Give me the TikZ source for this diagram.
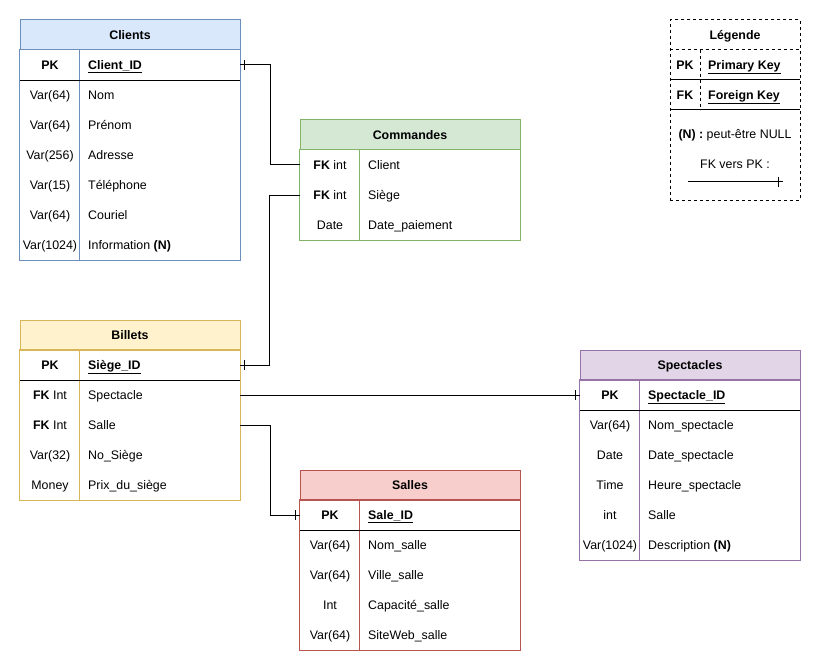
\documentclass[tikz,border=0pt]{standalone}
\usepackage{fontspec}
\setmainfont{Liberation Sans}
\begin{document}
\definecolor{blueFill}{HTML}{DAE8FC}\definecolor{blueLine}{HTML}{6C8EBF}
\definecolor{greenFill}{HTML}{D5E8D4}\definecolor{greenLine}{HTML}{82B366}
\definecolor{yellowFill}{HTML}{FFF2CC}\definecolor{yellowLine}{HTML}{D6B656}
\definecolor{redFill}{HTML}{F8CECC}\definecolor{redLine}{HTML}{B85450}
\definecolor{purpleFill}{HTML}{E1D5E7}\definecolor{purpleLine}{HTML}{9673A6}
\newcommand{\basefont}{\fontsize{12.4}{14}\selectfont}
\tikzset{
  txt/.style={inner sep=0pt, text height=10pt, text depth=1.4pt},
  hdr/.style={minimum width=220pt, minimum height=30pt, inner sep=0pt, line width=1pt,
    font=\basefont\bfseries, text height=10pt, text depth=1.4pt},
  rowbox/.style={minimum width=220pt, minimum height=30pt, inner sep=0pt},
  keytxt/.style={txt},
  nametxt/.style={txt, anchor=west},
  boldtxt/.style={txt, font=\basefont\bfseries},
  tbl/.style={line width=1pt},
  pkline/.style={line width=1pt, black},
  conn/.style={line width=1pt, black},
  tick/.style={line width=1pt, black},
  legdash/.style={line width=1pt, dash pattern=on 3pt off 3pt}
}
% Entity table: name, left x, top y, title, fill, stroke, key/label rows
\newcommand{\ertable}[7]{%
  \node[hdr, fill=#5, draw=#6] (#1-h) at (#2+110, #3+15) {#4};
  \foreach \k/\l [count=\i from 0] in {#7} {
    \node[rowbox] (#1-r\i) at (#2+110, #3+45+30*\i) {};
    \node[keytxt] (#1-k\i) at (#2+30, #3+45+30*\i) {\k};
    \node[nametxt] (#1-n\i) at (#2+68, #3+45+30*\i) {\l};
    \xdef\lastrow{\i}
  }
  \draw[tbl, draw=#6] (#1-r0.north west) rectangle (#1-r\lastrow.south east);
  \draw[tbl, draw=#6] ([xshift=60pt]#1-r0.north west) -- ([xshift=60pt]#1-r\lastrow.south west);
}
\begin{tikzpicture}[x=1pt, y=-1pt, font=\basefont]
\useasboundingbox (0,0) rectangle (821,671);
\fill[white] (0,0) rectangle (821,671);

\ertable{cl}{20}{20}{Clients}{blueFill}{blueLine}{%
  \textbf{PK}/\underline{\textbf{Client\_ID}},
  Var(64)/Nom, Var(64)/Prénom, Var(256)/Adresse,
  Var(15)/Téléphone, Var(64)/Couriel,
  Var(1024)/{Information \textbf{(N)}}}
\draw[pkline] (cl-r0.south west) -- (cl-r0.south east);

\ertable{co}{300}{120}{Commandes}{greenFill}{greenLine}{%
  {\textbf{FK} int}/Client, {\textbf{FK} int}/Siège, Date/Date\_paiement}

\ertable{bi}{20}{320}{Billets}{yellowFill}{yellowLine}{%
  \textbf{PK}/\underline{\textbf{Siège\_ID}},
  {\textbf{FK} Int}/Spectacle, {\textbf{FK} Int}/Salle,
  Var(32)/No\_Siège, Money/Prix\_du\_siège}
\draw[pkline] (bi-r0.south west) -- (bi-r0.south east);

\ertable{sp}{580}{350}{Spectacles}{purpleFill}{purpleLine}{%
  \textbf{PK}/\underline{\textbf{Spectacle\_ID}},
  Var(64)/Nom\_spectacle, Date/Date\_spectacle, Time/Heure\_spectacle,
  int/Salle, Var(1024)/{Description \textbf{(N)}}}
\draw[pkline] (sp-r0.south west) -- (sp-r0.south east);

\ertable{sa}{300}{470}{Salles}{redFill}{redLine}{%
  \textbf{PK}/\underline{\textbf{Sale\_ID}},
  Var(64)/Nom\_salle, Var(64)/Ville\_salle, Int/Capacité\_salle,
  Var(64)/SiteWeb\_salle}
\draw[pkline] (sa-r0.south west) -- (sa-r0.south east);

% Relations (foreign key -> primary key)
\draw[conn] (cl-r0.east) -- ++(30,0) |- (co-r0.west);
\draw[tick] ([xshift=4pt]cl-r0.east) ++(0,-5) -- ++(0,10);

\draw[conn] (co-r1.west) -- ++(-30,0) |- (bi-r0.east);
\draw[tick] ([xshift=4pt]bi-r0.east) ++(0,-5) -- ++(0,10);

\draw[conn] (bi-r1.east) -- (sp-r0.west);
\draw[tick] ([xshift=-4pt]sp-r0.west) ++(0,-5) -- ++(0,10);

\draw[conn] (bi-r2.east) -- ++(30,0) |- (sa-r0.west);
\draw[tick] ([xshift=-4pt]sa-r0.west) ++(0,-5) -- ++(0,10);

% Legend
\node[legdash, draw, minimum width=130pt, minimum height=180pt, inner sep=0pt] (lg) at (735,110) {};
\node[boldtxt] (lg-t) at (735,35) {Légende};
\draw[legdash] (670,50) -- (800,50);
\draw[legdash] (700,50) -- (700,110);
\draw[pkline] (670,80) -- (800,80);
\draw[pkline] (670,110) -- (800,110);
\node[boldtxt] (lg-pk) at (685,65) {PK};
\node[nametxt] (lg-pkn) at (708,65) {\underline{\textbf{Primary Key}}};
\node[boldtxt] (lg-fk) at (685,95) {FK};
\node[nametxt] (lg-fkn) at (708,95) {\underline{\textbf{Foreign Key}}};
\node[txt] (lg-null) at (735,134) {\textbf{(N) :} peut-être NULL};
\node[txt] (lg-rel) at (735,164) {FK vers PK :};
\coordinate (lg-a) at (688,182);
\coordinate (lg-b) at (783,182);
\draw[conn] (lg-a) -- (lg-b);
\draw[tick] ([xshift=-5pt]lg-b) ++(0,-5) -- ++(0,10);
\end{tikzpicture}
\end{document}
